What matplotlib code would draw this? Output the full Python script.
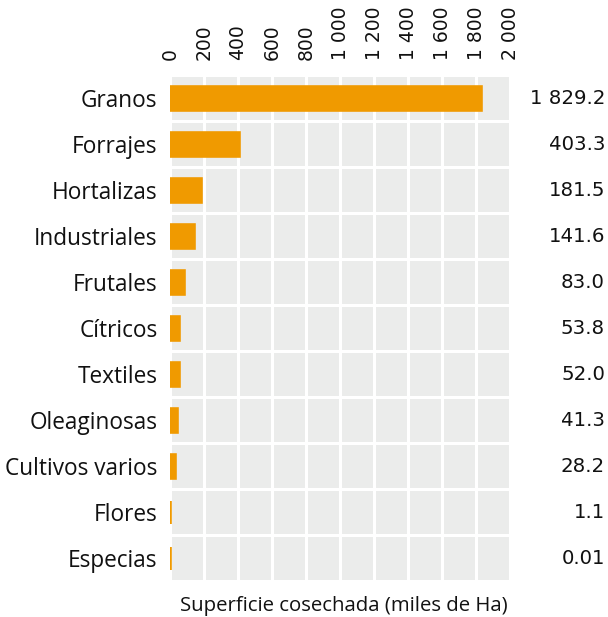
import matplotlib
matplotlib.use("Agg")
import matplotlib.pyplot as plt
from matplotlib.ticker import FuncFormatter, MultipleLocator
from matplotlib.transforms import blended_transform_factory

# ---- Data ---------------------------------------------------------------
categories = ["Granos", "Forrajes", "Hortalizas", "Industriales", "Frutales",
              "Cítricos", "Textiles", "Oleaginosas", "Cultivos varios",
              "Flores", "Especias"]
values = [1829.2, 403.3, 181.5, 141.6, 83.0, 53.8, 52.0, 41.3, 28.2, 1.1, 0.01]
value_labels = ["1 829.2", "403.3", "181.5", "141.6", "83.0", "53.8", "52.0",
                "41.3", "28.2", "1.1", "0.01"]

BAR = "#F09A00"
PANEL = "#EBECEB"
LABEL_FONT = ["Open Sans", "DejaVu Sans"]
INK = "#111111"

fig = plt.figure(figsize=(6.08, 6.17), dpi=100)
W, H = 608, 617
ax = fig.add_axes([170 / W, 1 - 581 / H, 340 / W, 506 / H])
ax.set_facecolor(PANEL)

y = list(range(len(categories)))
ax.barh(y, values, height=0.5, color=BAR, edgecolor=BAR, linewidth=2.6, zorder=3)

ax.set_xlim(0, 2000)
ax.set_ylim(len(categories) - 0.5, -0.5)

# grid: white lines between tiles
ax.xaxis.set_major_locator(MultipleLocator(200))
ax.set_yticks(y)
ax.set_yticks([i - 0.5 for i in range(len(categories) + 1)], minor=True)
ax.grid(True, axis="x", which="major", color="white", linewidth=2.2, zorder=1)
ax.grid(True, axis="y", which="minor", color="white", linewidth=2.2, zorder=1)
ax.grid(False, axis="y", which="major")

ax.xaxis.tick_top()
ax.xaxis.set_major_formatter(FuncFormatter(lambda v, _: f"{int(v):,}".replace(",", " ")))
ax.tick_params(axis="x", which="both", length=0, pad=11, labelsize=13.5,
               labelrotation=90, colors=INK)
ax.tick_params(axis="y", which="both", length=0, pad=9)
ax.set_yticklabels(categories, fontsize=16.3, family=LABEL_FONT, color=INK)
for lab in ax.get_xticklabels():
    lab.set_verticalalignment("bottom")

for s in ax.spines.values():
    s.set_visible(False)

# values on the right
tr = blended_transform_factory(fig.transFigure, ax.transData)
for yi, lab in zip(y, value_labels):
    ax.text(605 / W, yi, lab, transform=tr, ha="right", va="center",
            fontsize=14.2, color=INK)

fig.text(344 / W, 1 - 606 / H, "Superficie cosechada (miles de Ha)",
         ha="center", va="center", fontsize=14.7, family=LABEL_FONT,
         color=INK)

fig.savefig("out.png", dpi=100)
